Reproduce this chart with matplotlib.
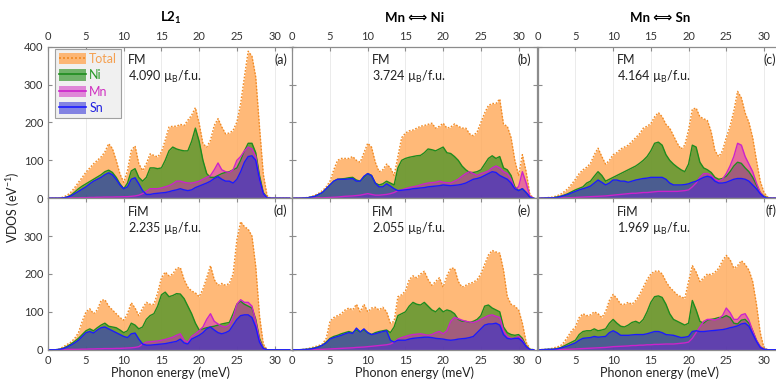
import numpy as np
import matplotlib
matplotlib.use('Agg')
import matplotlib.pyplot as plt
from matplotlib.patches import Patch
from matplotlib.lines import Line2D

plt.rcParams['font.family'] = ['Lato', 'DejaVu Sans']
plt.rcParams['mathtext.fontset'] = 'custom'
plt.rcParams['mathtext.rm'] = 'Lato'
plt.rcParams['mathtext.it'] = 'Lato:italic'
plt.rcParams['mathtext.bf'] = 'Lato:bold'

# ---------------- data (phonon energy grid in meV, VDOS in eV^-1) ----------------
energy = np.arange(0, 32.01, 0.5)

total_a = [0,0,0,0.5,3,8,16,28,42,55,
           69,80,91,100,109,122,144,131,100,64,
           42,73,126,138,91,73,91,117,113,109,
           122,153,188,190,190,195,192,206,219,239,
           197,144,135,153,192,210,188,170,172,179,
           201,250,320,388,375,320,188,64,7,0,
           0,0,0,0,0]
ni_a = [0,0,0,0,0.5,3,8,16,25,32,
        38,44,50,56,62,70,74,68,55,38,
        25,40,72,78,55,45,55,80,80,78,
        80,100,125,135,130,127,125,125,150,185,
        150,100,65,55,55,60,65,68,70,75,
        80,100,125,145,145,120,60,15,2,0,
        0,0,0,0,0]
mn_a = [0,0,0,0,0.5,0.5,1,1,1,1.5,
        1.5,2,2,2.5,2.5,3,3,3,3.5,3.5,
        4,4,5,6,8,12,18,25,25,25,
        27,30,33,38,45,45,42,40,40,42,
        45,50,55,60,75,93,75,70,68,75,
        100,110,125,135,130,110,50,12,1,0,
        0,0,0,0,0]
sn_a = [0,0,0,0,1,3,6,12,18,24,
        30,38,45,50,55,62,67,62,50,35,
        25,30,50,54,38,20,10,10,12,13,
        14,15,17,20,22,25,22,20,22,28,
        32,36,40,45,52,57,50,45,45,40,
        50,70,95,110,112,100,50,12,1,0,
        0,0,0,0,0]

total_b = [0,0,0,0.5,2,4,8,13,20,30,
           45,75,100,105,105,105,110,100,95,120,
           145,135,95,70,75,90,80,60,110,160,
           172,178,180,185,190,192,195,198,185,190,
           198,185,188,196,190,185,185,170,165,175,
           200,225,245,250,250,262,195,190,160,100,
           60,115,70,10,0]
ni_b = [0,0,0,0.5,1,3,5,10,15,25,
        35,45,50,51,52,54,55,48,45,55,
        65,60,40,35,38,45,40,35,80,100,
        105,108,110,112,113,120,130,128,125,130,
        135,120,118,110,100,85,75,68,68,70,
        75,90,105,112,105,110,80,75,60,30,
        20,25,15,3,0]
mn_b = [0,0,0,0,0,0.5,0.5,1,1,1.5,
        2,2.5,3,4,5,5.5,6,7,8,10,
        12,10,8,8,9,10,12,15,20,22,
        25,28,30,32,35,38,40,41,42,45,
        42,41,40,45,50,58,65,70,65,60,
        65,68,72,80,85,80,70,65,50,25,
        30,70,40,5,0]
sn_b = [0,0,0,0.5,1,3,5,10,15,25,
        35,45,50,50,50,51,52,45,45,58,
        65,60,40,30,30,38,32,25,20,21,
        22,23,25,26,27,28,30,31,32,33,
        35,34,33,34,35,37,40,45,50,52,
        55,60,65,70,68,60,55,50,40,25,
        20,25,15,3,0]

total_c = [0,0.5,1,2,3,6,10,17,25,37,
           50,65,75,82,92,115,132,110,90,100,
           115,120,130,135,140,150,160,170,185,190,
           197,215,226,215,195,185,165,145,130,140,
           180,235,238,215,210,205,175,125,110,125,
           160,190,230,282,265,225,200,160,100,45,
           15,3,0,0,0]
ni_c = [0,0,0.5,1,1,3,5,8,12,17,
        22,26,30,40,45,58,70,60,45,50,
        55,60,65,70,75,80,85,92,100,110,
        125,145,148,140,115,100,90,82,75,70,
        90,140,135,95,80,75,68,55,50,52,
        58,70,85,95,92,80,70,55,35,15,
        5,1,0,0,0]
mn_c = [0,0,0,0,0,0.5,0.5,1,1,1.5,
        2,2.5,3,3.5,4,4.5,5,5.5,6,7,
        8,9,10,11,12,13,13,14,15,15,
        16,17,18,18,18,18,18,18,19,20,
        22,30,40,55,65,65,60,50,45,50,
        65,85,110,145,140,110,90,70,40,15,
        3,0,0,0,0]
sn_c = [0,0,0.5,1,1,2,4,7,10,14,
        18,22,25,28,32,40,48,42,35,40,
        48,48,45,45,42,45,48,50,52,53,
        55,55,55,55,50,40,35,35,35,36,
        38,42,45,50,55,58,55,45,40,40,
        42,46,50,52,52,50,45,35,25,12,
        3,0,0,0,0]

total_d = [0,0,0,2,8,14,20,30,45,75,
           100,108,95,105,130,132,115,105,95,85,
           78,95,124,110,90,110,125,120,120,150,
           190,205,195,200,215,217,185,165,155,150,
           140,160,190,222,185,170,175,170,175,200,
           290,338,325,318,300,220,90,15,0,0,
           0,0,0,0,0]
ni_d = [0,0,0,1,4,9,15,22,30,40,
        50,55,50,58,65,70,62,60,58,52,
        45,50,70,65,55,60,80,90,95,115,
        145,152,140,143,148,147,135,115,95,70,
        52,55,58,60,62,65,68,70,72,95,
        120,128,120,115,110,80,30,5,0,0,
        0,0,0,0,0]
mn_d = [0,0,0,0,0.5,0.5,1,1,1,1.5,
        1.5,2,2,2.5,2.5,3,3,3,3.5,3.5,
        4,4.5,5,6,8,15,20,21,22,23,
        25,27,30,33,38,42,25,20,35,42,
        50,60,80,95,75,68,62,60,65,85,
        120,132,125,125,115,75,25,3,0,0,
        0,0,0,0,0]
sn_d = [0,0,0,1,3,7,12,18,25,35,
        45,48,44,52,58,60,55,50,45,40,
        35,32,42,44,28,15,12,12,13,14,
        15,16,18,20,22,28,18,15,28,33,
        38,45,55,60,52,45,42,45,50,65,
        80,90,92,92,85,60,20,3,0,0,
        0,0,0,0,0]

total_e = [0,0,0,1,3,5,8,11,15,30,
           75,85,90,95,105,110,105,120,100,120,
           100,110,112,105,112,100,70,75,140,145,
           155,185,195,190,200,207,185,170,180,190,
           165,195,215,215,180,165,170,175,178,185,
           200,225,250,262,258,255,210,140,120,115,
           105,70,20,2,0]
ni_e = [0,0,0,0.5,1,3,5,8,12,20,
        30,35,38,42,45,48,45,52,47,52,
        45,40,45,48,50,52,45,60,90,95,
        100,115,125,120,118,125,115,105,100,110,
        100,105,102,95,80,75,75,72,75,80,
        90,115,118,110,105,100,60,45,40,38,
        40,30,10,1,0]
mn_e = [0,0,0,0,0,0,0.5,0.5,1,1.5,
        2,2.5,3,3.5,4,4.5,5,6,6.5,7,
        8,9,10,11,12,13,15,20,28,32,
        35,38,40,41,42,40,38,40,45,48,
        42,50,75,85,82,78,75,73,72,75,
        80,85,90,92,88,85,50,35,30,30,
        35,25,8,0,0]
sn_e = [0,0,0,0.5,1,2,4,7,12,18,
        28,32,35,38,42,45,43,57,47,55,
        45,40,42,45,48,50,25,20,25,25,
        25,28,30,31,32,33,33,32,30,29,
        28,26,25,26,28,29,30,32,35,45,
        55,65,68,68,70,65,40,30,28,30,
        30,22,8,0,0]

total_f = [0,0.5,1,2,4,7,10,20,35,50,
           60,85,95,90,92,100,95,85,100,130,
           146,135,120,120,125,120,130,145,165,185,
           200,207,208,200,180,165,155,145,140,135,
           180,222,205,180,190,200,198,205,215,235,
           249,238,215,222,235,225,210,180,120,45,
           4,0,0,0,0]
ni_f = [0,0,0.5,1,1,3,5,10,15,20,
        25,40,48,50,50,55,50,52,55,70,
        80,70,62,60,65,72,75,70,80,100,
        125,140,142,138,120,95,80,75,70,65,
        70,130,105,75,70,78,80,82,85,85,
        90,85,70,68,78,80,70,50,25,8,
        1,0,0,0,0]
mn_f = [0,0,0,0,0,0.5,0.5,1,1,1.5,
        2,2.5,3,3.5,4,4.5,5,5.5,6,7,
        8,8.5,9,9.5,10,11,11,12,12,13,
        13,14,14,14.5,15,15,15,16,17,18,
        20,30,45,60,75,80,80,78,82,90,
        110,98,80,80,92,95,78,50,25,8,
        1,0,0,0,0]
sn_f = [0,0,0.5,1,1,2,4,7,10,14,
        18,25,30,31,32,35,33,34,35,45,
        50,45,38,38,38,39,40,40,40,42,
        45,48,48,45,40,39,38,35,32,33,
        35,48,50,48,48,49,50,51,52,53,
        55,58,60,63,68,70,62,42,22,6,
        1,0,0,0,0]

column_titles = ['L2$_{\\mathbf{1}}$', 'Mn \u27fa Ni', 'Mn \u27fa Sn']
panel_labels = ['(a)', '(b)', '(c)', '(d)', '(e)', '(f)']
states = ['FM', 'FM', 'FM', 'FiM', 'FiM', 'FiM']
moments = ['4.090', '3.724', '4.164', '2.235', '2.055', '1.969']
series_names = ['Total', 'Ni', 'Mn', 'Sn']

panels = [
    [total_a, ni_a, mn_a, sn_a],
    [total_b, ni_b, mn_b, sn_b],
    [total_c, ni_c, mn_c, sn_c],
    [total_d, ni_d, mn_d, sn_d],
    [total_e, ni_e, mn_e, sn_e],
    [total_f, ni_f, mn_f, sn_f],
]

# ---------------- styles ----------------
fill_colors = ['#FFAA5A', '#1A8A10', '#D020C0', '#2A2AD8']
fill_alphas = [0.82, 0.6, 0.5, 0.55]
line_colors = ['#F08A24', '#1E8C1E', '#CC22CC', '#1A1AFF']
text_colors = ['#F5A050', '#2A9A2A', '#D030C0', '#2020E0']
spine_color = '#8c8c8c'

W, H = 776, 380
fig = plt.figure(figsize=(W / 100, H / 100), dpi=100)
col_left = [48.3, 292.3, 537.7]
col_w = 244.4
row_top = [46.7, 198.2]
row_h = 151.5

for idx, series in enumerate(panels):
    r, c = divmod(idx, 3)
    l, t = col_left[c], row_top[r]
    ax = fig.add_axes([l / W, 1 - (t + row_h) / H, col_w / W, row_h / H])
    ax.set_axisbelow(True)
    ax.grid(True, axis='x', color='#e8e8e8', lw=0.6)
    for k, vals in enumerate(series):
        ax.fill_between(energy, vals, 0, color=fill_colors[k], alpha=fill_alphas[k], lw=0)
        if k == 0:
            ax.plot(energy, vals, color=line_colors[k], lw=1.0, ls=(0, (1.2, 1.2)))
        else:
            ax.plot(energy, vals, color=line_colors[k], lw=1.0)
    ax.set_xlim(0, 32.4)
    ax.set_ylim(0, 400)
    ax.set_xticks(range(0, 31, 5))
    ax.set_yticks([0, 100, 200, 300, 400] if r == 0 else [0, 100, 200, 300])
    ax.tick_params(direction='in', length=3, width=0.8, color=spine_color,
                   labelsize=8, labelcolor='#333333',
                   top=True, bottom=True, left=True, right=True,
                   labeltop=(r == 0), labelbottom=(r == 1),
                   labelleft=(c == 0), labelright=False)
    for s in ax.spines.values():
        s.set_color(spine_color)
        s.set_linewidth(0.9)
    ax.text(0.326, 0.91, states[idx], transform=ax.transAxes, fontsize=9,
            ha='left', va='center', color='#222222')
    ax.text(0.326, 0.80, moments[idx] + ' \u00b5$_\\mathrm{B}$/f.u.', transform=ax.transAxes,
            fontsize=9, ha='left', va='center', color='#222222')
    ax.text(0.977, 0.915, panel_labels[idx], transform=ax.transAxes, fontsize=9,
            ha='right', va='center', color='#222222')
    if r == 0:
        ax.set_title(column_titles[c], fontsize=9.5, fontweight='bold', pad=18)
    else:
        ax.set_xlabel('Phonon energy (meV)', fontsize=9, labelpad=1, color='#222222')
    if idx == 0:
        handles = []
        for k in range(4):
            p = Patch(facecolor=fill_colors[k], alpha=fill_alphas[k], edgecolor='none')
            ln = Line2D([], [], color=line_colors[k], lw=1.2,
                        ls=(0, (1.2, 1.2)) if k == 0 else '-')
            handles.append((p, ln))
        leg = ax.legend(handles, series_names, loc='upper left',
                        bbox_to_anchor=(0.027, 0.985), fontsize=9,
                        frameon=True, fancybox=False, facecolor='#f0f0f0',
                        edgecolor='#a0a0a0', framealpha=1, handlelength=2.2,
                        handleheight=1.05, handletextpad=0.25, labelspacing=0.35,
                        borderpad=0.3, borderaxespad=0)
        leg.get_frame().set_linewidth(0.8)
        for txt, col in zip(leg.get_texts(), text_colors):
            txt.set_color(col)

fig.text(13 / W, 1 - 207 / H, 'VDOS (eV$^{-1}$)', rotation=90, fontsize=9,
         ha='center', va='center', color='#222222')

fig.savefig('out.png', dpi=100)
